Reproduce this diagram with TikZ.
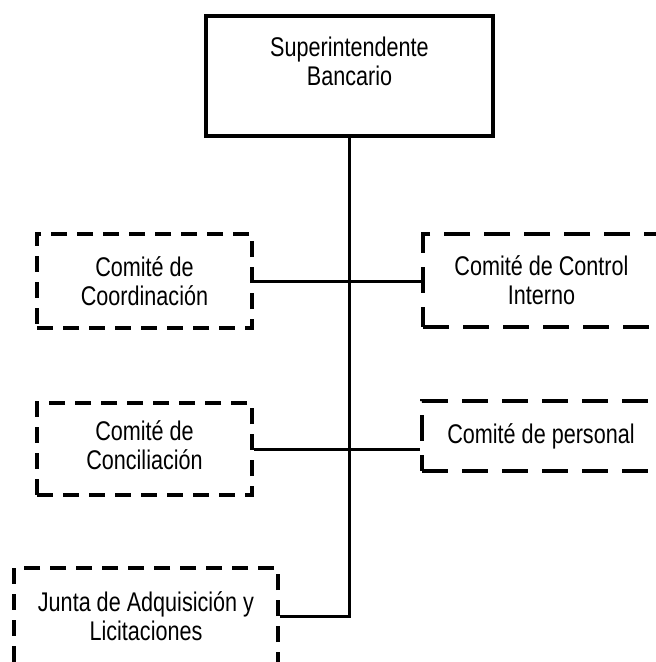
\documentclass[tikz,border=0pt]{standalone}
\usepackage{fontspec}
\setmainfont{Liberation Sans}[FakeStretch=0.8]
\begin{document}
\begin{tikzpicture}[x=1pt,y=-1pt,
		jefe/.style={draw, line width=3.5pt, align=center, font=\fontsize{27}{29}\selectfont},
		comite/.style={draw, line width=3.5pt, dash pattern=on 16pt off 10pt, align=center, font=\fontsize{27}{29}\selectfont},
		comiteder/.style={comite, dash pattern=on 26pt off 14pt},
		enlace/.style={line width=3pt}]
		\useasboundingbox (0,0) rectangle (656,662);
		\node[jefe, minimum width=287pt, minimum height=120pt, text depth=30pt] (super) at (349.5,76) {Superintendente\\Bancario};
		\node[comite, minimum width=215pt, minimum height=94pt] (coordinacion) at (144.5,281) {Comité de\\Coordinación};
		\node[comiteder, minimum width=237pt, minimum height=93pt] (control) at (541.5,280.5) {Comité de Control\\Interno};
		\node[comite, minimum width=215pt, minimum height=92pt, text depth=8pt] (conciliacion) at (144.5,449) {Comité de\\Conciliación};
		\node[comiteder, minimum width=238pt, minimum height=70pt] (personal) at (541,436) {Comité de personal};
		\node[comite, minimum width=264pt, minimum height=96pt] (junta) at (146,616) {Junta de Adquisición y\\Licitaciones};
		\draw[enlace] (super.south) |- (junta.east);
		\draw[enlace] (coordinacion.east) -- (coordinacion.east -| control.west);
		\draw[enlace] (conciliacion.east) -- (conciliacion.east -| personal.west);
	\end{tikzpicture}
\end{document}
